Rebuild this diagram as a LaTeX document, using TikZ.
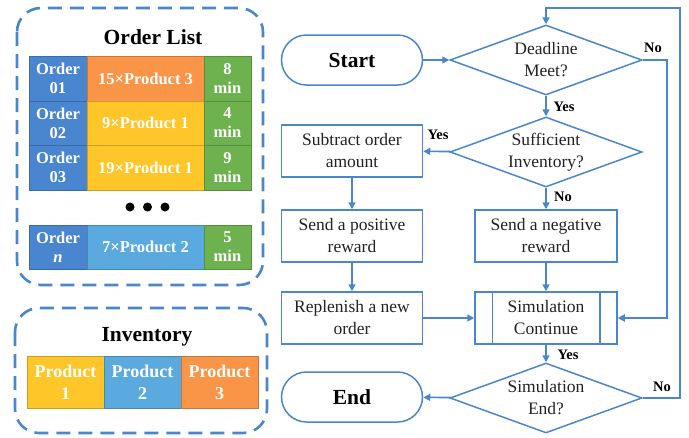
\documentclass[tikz,border=0pt]{standalone}
\usepackage{fontspec}
\setmainfont{Liberation Serif}
\usetikzlibrary{shapes.geometric,arrows.meta,calc}

\definecolor{lineblue}{HTML}{4A86CC}
\definecolor{ordblue}{HTML}{4A86D0}
\definecolor{prodorange}{HTML}{FA9548}
\definecolor{prodyellow}{HTML}{FFC62A}
\definecolor{timegreen}{HTML}{6EB24F}
\definecolor{prodblue}{HTML}{5AAAE0}
\definecolor{txtgray}{HTML}{222222}

\tikzset{
	cell/.style={fill=#1, draw=#1!80!black, line width=0.4pt, text=white, align=center, inner sep=0pt,
		font=\bfseries\fontsize{16.5}{19}\selectfont},
	ordcell/.style={cell=ordblue, minimum width=58pt, minimum height=44.5pt},
	prodcell/.style={cell=#1, minimum width=117pt, minimum height=44.5pt},
	timecell/.style={cell=timegreen, minimum width=47pt, minimum height=44.5pt},
	invcell/.style={cell=#1, minimum width=77pt, minimum height=52pt, font=\bfseries\fontsize{18}{22}\selectfont},
	dashbox/.style={draw=lineblue, line width=2.6pt, rounded corners=24pt, dash pattern=on 14pt off 8pt},
	boxtitle/.style={font=\bfseries\fontsize{21.5}{24}\selectfont},
	proc/.style={draw=lineblue, line width=1.5pt, minimum width=141pt, minimum height=52pt, align=center,
		text=txtgray, font=\fontsize{17.5}{22}\selectfont},
	term/.style={proc, rounded corners=25pt, minimum height=50pt, font=\bfseries\fontsize{21.5}{24}\selectfont, text=black},
	decision/.style={diamond, draw=lineblue, line width=1.5pt, minimum width=192pt, minimum height=70pt, inner sep=0pt,
		label={[align=center, text=txtgray, font=\fontsize{17.5}{22}\selectfont]center:#1}},
	flow/.style={draw=lineblue, line width=1.6pt, -{Triangle[length=7pt,width=7pt]}},
	loop/.style={flow, line width=2.2pt},
	answer/.style={font=\bfseries\fontsize{14.5}{16}\selectfont}
}

\begin{document}
\begin{tikzpicture}[x=1pt, y=-1pt]
	\useasboundingbox (0,0) rectangle (689,437);

	% order list
	\draw[dashbox] (17,8) rectangle (263,285);
	\node[boxtitle] (ordtitle) at (153,37) {Order List};

	\node[ordcell] (ord1) at (58,78.5) {Order\\01};
	\node[prodcell=prodorange] (prod1) at (145.5,78.5) {15×Product 3};
	\node[timecell] (time1) at (227.5,78.5) {8\\min};

	\node[ordcell] (ord2) at (58,123) {Order\\02};
	\node[prodcell=prodyellow] (prod2) at (145.5,123) {9×Product 1};
	\node[timecell] (time2) at (227.5,123) {4\\min};

	\node[ordcell] (ord3) at (58,167.5) {Order\\03};
	\node[prodcell=prodyellow] (prod3) at (145.5,167.5) {19×Product 1};
	\node[timecell] (time3) at (227.5,167.5) {9\\min};

	\fill (130,207) circle (4.5pt);
	\fill (147.5,207) circle (4.5pt);
	\fill (165,207) circle (4.5pt);

	\node[ordcell] (ordn) at (58,247) {Order\\\textit{n}};
	\node[prodcell=prodblue] (prodn) at (145.5,247) {7×Product 2};
	\node[timecell] (timen) at (227.5,247) {5\\min};

	% inventory
	\draw[dashbox] (15,308) rectangle (267,433);
	\node[boxtitle] (invtitle) at (147,337) {Inventory};

	\node[invcell=prodyellow] (inv1) at (65.5,382) {Product\\1};
	\node[invcell=prodblue] (inv2) at (142.5,382) {Product\\2};
	\node[invcell=prodorange] (inv3) at (219.5,382) {Product\\3};

	% flow chart
	\node[term] (start) at (352,60) {Start};
	\node[decision={Deadline\\Meet?}] (deadline) at (546,60) {};
	\node[decision={Sufficient\\Inventory?}] (suff) at (546,152) {};
	\node[proc] (subtract) at (352,151) {Subtract order\\amount};
	\node[proc] (positive) at (352,236) {Send a positive\\reward};
	\node[proc, minimum width=142pt] (negative) at (546,236) {Send a negative\\reward};
	\node[proc] (replenish) at (352,318) {Replenish a new\\order};
	\node[proc, minimum width=142pt] (simcont) at (546,318) {Simulation\\Continue};
	\draw[draw=lineblue, line width=1.5pt] ($(simcont.north west)+(18pt,0)$) -- ($(simcont.south west)+(18pt,0)$);
	\draw[draw=lineblue, line width=1.5pt] ($(simcont.north east)+(-18pt,0)$) -- ($(simcont.south east)+(-18pt,0)$);
	\node[decision={Simulation\\End?}] (simend) at (546,398) {};
	\node[term] (end) at (352,397) {End};

	\coordinate (nocorner) at (667,60);
	\coordinate (loopcorner) at (680,8);

	\draw[flow] (start) -- (deadline);
	\draw[flow] (deadline) -- (suff);
	\draw[flow] (suff) -- (subtract);
	\draw[flow] (suff) -- (negative);
	\draw[flow] (subtract) -- (positive);
	\draw[flow] (positive) -- (replenish);
	\draw[flow] (negative) -- (simcont);
	\draw[flow] (replenish) -- (simcont);
	\draw[flow] (simcont) -- (simend);
	\draw[flow] (simend) -- (end);
	\draw[loop] (deadline.east) -- (nocorner) |- (simcont.east);
	\draw[loop] (simend.east) -| (loopcorner) -| (deadline.north);

	\node[answer] (no1) at (653,48) {No};
	\node[answer] (yes1) at (564,107) {Yes};
	\node[answer] (yes2) at (438,135) {Yes};
	\node[answer] (no2) at (563,197) {No};
	\node[answer] (yes3) at (568,355) {Yes};
	\node[answer] (no3) at (662,387) {No};
\end{tikzpicture}
\end{document}
